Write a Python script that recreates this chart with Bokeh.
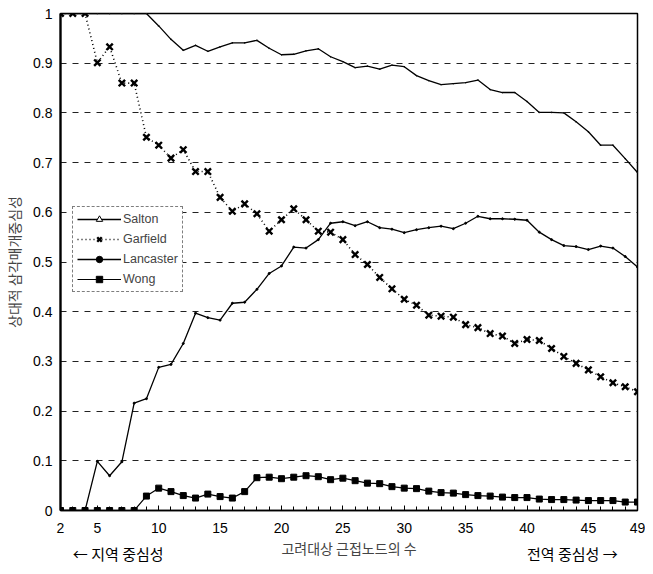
from bokeh.plotting import figure
from bokeh.models import Range1d, FixedTicker, Legend, LegendItem, LinearAxis
from bokeh.embed import file_html
from bokeh.resources import INLINE

# ---- data ----
x_values = list(range(2, 50))
salton = [1.0, 1.0, 1.0, 1.0, 1.0, 1.0, 1.0, 1.0,
          0.975, 0.948, 0.926, 0.936, 0.924, 0.933, 0.941, 0.941, 0.946, 0.930,
          0.917, 0.918, 0.925, 0.929, 0.913, 0.903, 0.891, 0.894, 0.888, 0.896,
          0.893, 0.875, 0.865, 0.857, 0.859, 0.861, 0.866, 0.847, 0.841, 0.841,
          0.823, 0.801, 0.801, 0.800, 0.782, 0.762, 0.735, 0.735, 0.708, 0.680]
garfield = [1.0, 1.0, 1.0, 0.901, 0.933, 0.860, 0.860, 0.751, 0.735, 0.709,
            0.726, 0.682, 0.682, 0.630, 0.602, 0.617, 0.597, 0.562, 0.585, 0.607,
            0.585, 0.562, 0.560, 0.545, 0.515, 0.495, 0.469, 0.446, 0.425, 0.413,
            0.393, 0.391, 0.389, 0.374, 0.368, 0.356, 0.351, 0.336, 0.344, 0.342,
            0.326, 0.310, 0.296, 0.283, 0.269, 0.257, 0.249, 0.239]
lancaster = [0.0, 0.0, 0.0, 0.099, 0.070, 0.098, 0.216, 0.225, 0.288, 0.294,
             0.336, 0.397, 0.388, 0.383, 0.417, 0.419, 0.445, 0.477, 0.492, 0.530,
             0.528, 0.545, 0.578, 0.581, 0.573, 0.581, 0.569, 0.566, 0.559, 0.565,
             0.569, 0.572, 0.567, 0.578, 0.592, 0.587, 0.587, 0.586, 0.584, 0.560,
             0.545, 0.533, 0.531, 0.525, 0.532, 0.528, 0.511, 0.490]
wong = [0.0, 0.0, 0.0, 0.0, 0.0, 0.0, 0.0, 0.029, 0.045, 0.038,
        0.030, 0.025, 0.033, 0.028, 0.025, 0.038, 0.066, 0.067, 0.064, 0.067,
        0.070, 0.068, 0.062, 0.065, 0.060, 0.055, 0.054, 0.048, 0.045, 0.044,
        0.039, 0.036, 0.035, 0.032, 0.030, 0.029, 0.027, 0.026, 0.026, 0.023,
        0.022, 0.022, 0.021, 0.020, 0.020, 0.020, 0.017, 0.017]

series_names = ["Salton", "Garfield", "Lancaster", "Wong"]
x_ticks = [2, 5, 10, 15, 20, 25, 30, 35, 40, 45, 49]
x_minor_ticks = list(range(2, 50))
y_ticks = [0, 0.1, 0.2, 0.3, 0.4, 0.5, 0.6, 0.7, 0.8, 0.9, 1]
y_tick_labels = ["0", "0.1", "0.2", "0.3", "0.4", "0.5", "0.6", "0.7", "0.8", "0.9", "1"]

x_title = "고려대상 근접노드의 수"
y_title = "상대적 삼각매개중심성"
note_positions = [6.7, 43.7]
note_labels = ["← 지역 중심성", "전역 중심성 →"]

NUM_FONT = "Liberation Sans"
KR_FONT = "Noto Sans CJK KR"

p = figure(width=645, height=566, output_backend="svg", toolbar_location=None,
           x_range=Range1d(2, 49), y_range=Range1d(0, 1),
           min_border_left=60, min_border_right=8, min_border_top=13, min_border_bottom=54,
           background_fill_color="white", border_fill_color="white")

p.outline_line_color = "black"
p.outline_line_width = 1.5

# grid
p.xgrid.grid_line_color = None
p.ygrid.grid_line_color = "#222222"
p.ygrid.grid_line_dash = "6 6"
p.ygrid.grid_line_width = 1

# x axis
p.xaxis.ticker = FixedTicker(ticks=x_ticks, minor_ticks=x_minor_ticks)
p.xaxis.major_tick_in = 5
p.xaxis.major_tick_out = 0
p.xaxis.minor_tick_in = 4
p.xaxis.minor_tick_out = 0
p.xaxis.axis_line_width = 1.5
p.xaxis.major_label_standoff = 12
p.xaxis.major_label_text_font = NUM_FONT
p.xaxis.major_label_text_font_size = "14px"
p.xaxis.major_label_text_color = "black"
p.xaxis.axis_label = x_title
p.xaxis.axis_label_text_font = KR_FONT
p.xaxis.axis_label_text_font_size = "14px"
p.xaxis.axis_label_text_font_style = "normal"
p.xaxis.axis_label_standoff = 2

# notes under the x axis (as a label-only secondary axis)
notes_axis = LinearAxis(ticker=FixedTicker(ticks=note_positions, minor_ticks=[]),
                        major_label_overrides=dict(zip(note_positions, note_labels)),
                        axis_line_color=None, major_tick_line_color=None,
                        minor_tick_line_color=None, major_label_standoff=-24,
                        major_label_text_font=KR_FONT, major_label_text_font_size="15px",
                        major_label_text_color="black")
p.add_layout(notes_axis, "below")

# y axis
p.yaxis.ticker = FixedTicker(ticks=y_ticks, minor_ticks=[])
p.yaxis.major_label_overrides = dict(zip(y_ticks, y_tick_labels))
p.yaxis.major_tick_in = 0
p.yaxis.major_tick_out = 0
p.yaxis.axis_line_width = 2.2
p.yaxis.major_label_standoff = 8
p.yaxis.major_label_text_font = NUM_FONT
p.yaxis.major_label_text_font_size = "14px"
p.yaxis.major_label_text_color = "black"
p.yaxis.axis_label = y_title
p.yaxis.axis_label_text_font = KR_FONT
p.yaxis.axis_label_text_font_size = "14px"
p.yaxis.axis_label_text_font_style = "normal"
p.yaxis.axis_label_standoff = 6

# series
r_salton = p.line(x_values, salton, line_color="black", line_width=1.3)
r_salton_pts = p.scatter(x_values, salton, marker="triangle", size=1,
                         line_color="black", fill_color="white", line_width=1)

r_garfield_line = p.line(x_values, garfield, line_color="black", line_width=1.6, line_dash="1 3")
r_garfield_pts = p.scatter(x_values, garfield, marker="x", size=9, line_color="black", line_width=2.4)

r_lanc = p.line(x_values, lancaster, line_color="black", line_width=1.3)
r_lanc_pts = p.scatter(x_values, lancaster, marker="circle", size=2, line_color="black",
                       fill_color="black")

r_wong = p.line(x_values, wong, line_color="black", line_width=1.2)
r_wong_pts = p.scatter(x_values, wong, marker="square", size=6, line_color="black",
                       fill_color="black")

legend = Legend(items=[
    LegendItem(label=series_names[0], renderers=[r_salton, r_salton_pts]),
    LegendItem(label=series_names[1], renderers=[r_garfield_line, r_garfield_pts]),
    LegendItem(label=series_names[2], renderers=[r_lanc, r_lanc_pts]),
    LegendItem(label=series_names[3], renderers=[r_wong, r_wong_pts]),
], location=(12, 218))
legend.label_text_font = NUM_FONT
legend.label_text_font_size = "12.5px"
legend.glyph_width = 44
legend.glyph_height = 16
legend.label_height = 16
legend.label_standoff = 2
legend.spacing = 4
legend.padding = 4
legend.margin = 0
legend.border_line_color = "black"
legend.border_line_dash = "2 2"
legend.border_line_width = 1
legend.background_fill_color = "white"
legend.background_fill_alpha = 1
p.add_layout(legend)

open("out.html", "w").write(file_html(p, INLINE))
